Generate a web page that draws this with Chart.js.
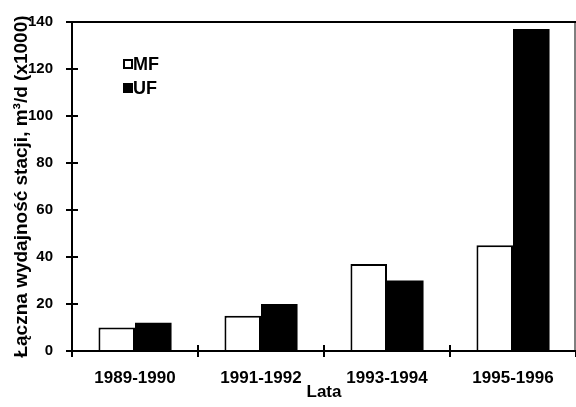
<!DOCTYPE html>
<html lang="pl">
<head>
<meta charset="UTF-8">
<title>Łączna wydajność stacji</title>
<script src="https://cdn.jsdelivr.net/npm/chart.js"></script>
<style>
  html, body { margin: 0; padding: 0; background: #fff; }
  #wrap { width: 576px; height: 407px; }
</style>
</head>
<body>
<div id="wrap"><canvas id="chart" width="576" height="407"></canvas></div>
<script>
// dane
const lata = ['1989-1990', '1991-1992', '1993-1994', '1995-1996'];
const mf = [10, 15, 37, 45];
const uf = [12, 20, 30, 137];
const yTicks = [0, 20, 40, 60, 80, 100, 120, 140];

const FONT = '"Liberation Sans", Arial, sans-serif';

// ramka, krótkie kreski do wewnątrz i legenda w polu wykresu
const extras = {
  id: 'extras',
  afterDraw(chart) {
    const ctx = chart.ctx;
    const a = chart.chartArea;
    const ys = chart.scales.y, xs = chart.scales.x;
    ctx.save();
    ctx.strokeStyle = '#000';
    ctx.lineWidth = 2;
    ctx.beginPath();
    ctx.moveTo(a.left, a.top);
    ctx.lineTo(a.right, a.top);
    ctx.stroke();
    ctx.lineWidth = 1;
    ctx.beginPath();
    ctx.moveTo(a.right - 1, a.top);
    ctx.lineTo(a.right - 1, a.bottom);
    ctx.stroke();
    ctx.lineWidth = 2;
    ctx.beginPath();
    yTicks.forEach(v => {
      const y = ys.getPixelForValue(v);
      ctx.moveTo(a.left, y);
      ctx.lineTo(a.left + 6, y);
    });
    for (let i = 1; i < lata.length; i++) {
      const x = (xs.getPixelForValue(i - 1) + xs.getPixelForValue(i)) / 2;
      ctx.moveTo(x, a.bottom);
      ctx.lineTo(x, a.bottom - 6);
    }
    ctx.stroke();

    // legenda
    ctx.font = 'bold 18px ' + FONT;
    ctx.textBaseline = 'middle';
    chart.data.datasets.forEach((ds, i) => {
      const bx = 123, by = 59 + i * 24;
      ctx.fillStyle = ds.backgroundColor;
      ctx.fillRect(bx, by, 10, 10);
      ctx.lineWidth = 2;
      ctx.strokeStyle = '#000';
      ctx.strokeRect(bx + 1, by + 1, 8, 8);
      ctx.fillStyle = '#000';
      ctx.fillText(ds.label, bx + 10, by + 6);
    });
    ctx.restore();
  }
};

new Chart(document.getElementById('chart'), {
  type: 'bar',
  data: {
    labels: lata,
    datasets: [
      { label: 'MF', data: mf, backgroundColor: '#ffffff', borderColor: '#000', borderWidth: 2 },
      { label: 'UF', data: uf, backgroundColor: '#000000', borderColor: '#000', borderWidth: 0 }
    ]
  },
  options: {
    responsive: false,
    animation: false,
    layout: { padding: { top: 19, right: 0, bottom: 0, left: 0 } },
    datasets: { bar: { categoryPercentage: 0.58, barPercentage: 1 } },
    plugins: {
      legend: { display: false },
      tooltip: { enabled: false }
    },
    scales: {
      x: {
        afterFit: s => { s.height = 56; },
        grid: { display: true, drawOnChartArea: false, offset: true, tickLength: 6, color: '#000', lineWidth: 2 },
        border: { display: true, color: '#000', width: 2 },
        ticks: { color: '#000', padding: 11, font: { family: FONT, size: 17, weight: 'bold' } },
        title: {
          display: true, text: 'Lata', color: '#000',
          padding: { top: 0, bottom: 4 },
          font: { family: FONT, size: 17, weight: 'bold' }
        }
      },
      y: {
        min: 0, max: 140,
        afterFit: s => { s.width = 72; },
        afterBuildTicks: s => { s.ticks = yTicks.map(v => ({ value: v })); },
        grid: { display: true, drawOnChartArea: false, tickLength: 6, color: '#000', lineWidth: 2 },
        border: { display: true, color: '#000', width: 2 },
        ticks: { color: '#000', padding: 13, font: { family: FONT, size: 15, weight: 'bold' } },
        title: {
          display: true, text: 'Łączna wydajność stacji, m³/d (x1000)', color: '#000',
          padding: { top: 10, bottom: 0 },
          font: { family: FONT, size: 19, weight: 'bold' }
        }
      }
    }
  },
  plugins: [extras]
});
</script>
</body>
</html>
